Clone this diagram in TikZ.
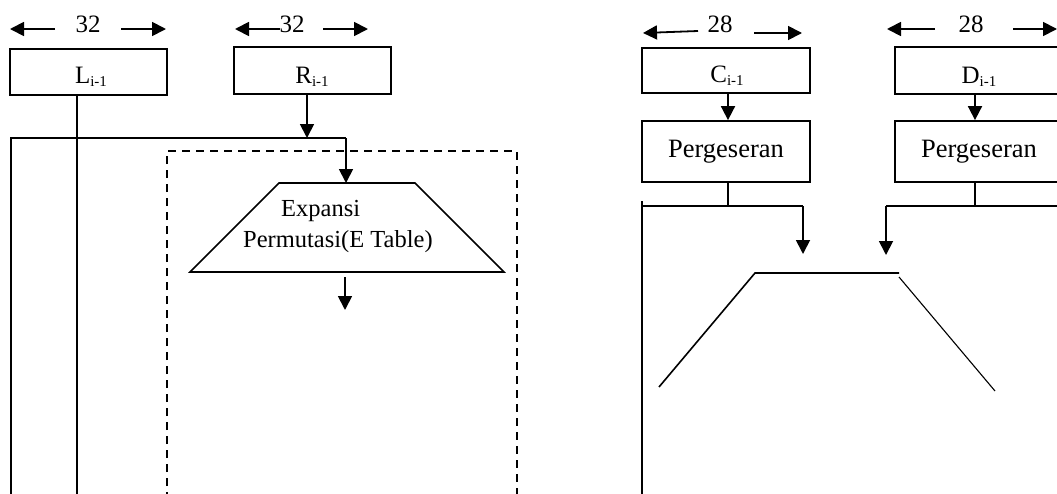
\documentclass[tikz,border=0pt]{standalone}
\usepackage{fontspec}
\setmainfont{Liberation Serif}
\usetikzlibrary{arrows.meta}
\newcommand{\sbs}[1]{\raisebox{-3pt}{\fontsize{15}{15}\selectfont #1}}
\begin{document}
\begin{tikzpicture}[x=1pt,y=-1pt,
  box/.style={draw,line width=1.8pt,inner sep=0pt},
  arr/.style={line width=1.8pt,-{Triangle[length=14pt,width=14pt]}},
  ln/.style={line width=1.6pt},
  thinln/.style={line width=1.1pt},
  dashln/.style={line width=1.4pt,dash pattern=on 8pt off 6pt},
  txt/.style={font=\fontsize{25}{28}\selectfont,inner sep=0pt,anchor=base},
  bigtxt/.style={font=\fontsize{26.5}{30}\selectfont,inner sep=0pt,anchor=base},
  trtxt/.style={font=\fontsize{24.5}{28}\selectfont,inner sep=0pt,anchor=base west}]
\useasboundingbox (0,0) rectangle (1057,493);
% boxes
\node[box,minimum width=157pt,minimum height=46pt] (L) at (88.5,72) {};
\node[box,minimum width=157pt,minimum height=47pt] (R) at (312.5,70.5) {};
\node[box,minimum width=168pt,minimum height=45pt] (C) at (726,70.5) {};
\node[box,minimum width=168pt,minimum height=61pt] (P1) at (726,151.5) {};
\node[box,minimum width=168pt,minimum height=47pt] (D) at (979,70.5) {};
\node[box,minimum width=168pt,minimum height=61pt] (P2) at (979,151.5) {};
% box texts
\node[txt] (Lt) at (91,83) {L\sbs{i-1}};
\node[txt] (Rt) at (312,83) {R\sbs{i-1}};
\node[txt] (Ct) at (727,82) {C\sbs{i-1}};
\node[txt] (Dt) at (979,83) {D\sbs{i-1}};
\node[bigtxt] (P1t) at (726,157) {Pergeseran};
\node[bigtxt] (P2t) at (979,157) {Pergeseran};
% dimension labels
\node[txt] (n1) at (88,32) {32};
\node[txt] (n2) at (292,32) {32};
\node[txt] (n3) at (720,32) {28};
\node[txt] (n4) at (971,32) {28};
\coordinate (a1l) at (10,29); \coordinate (a1t) at (55,29);
\coordinate (a1r) at (166,29); \coordinate (a1s) at (121,29);
\coordinate (a2l) at (235,29); \coordinate (a2t) at (280,29);
\coordinate (a2r) at (368,29); \coordinate (a2s) at (323,29);
\coordinate (a3l) at (643,33); \coordinate (a3t) at (698,31);
\coordinate (a3r) at (802,33); \coordinate (a3s) at (754,33);
\coordinate (a4l) at (887,29); \coordinate (a4t) at (935,29);
\coordinate (a4r) at (1057,29); \coordinate (a4s) at (1013,29);
\foreach \i in {1,2,3,4}{
  \draw[arr] (a\i t) -- (a\i l);
  \draw[arr] (a\i s) -- (a\i r);
}
% left part
\coordinate (Lend) at (77,500);
\draw[thinln] (L.south -| Lend) -- (Lend);
\coordinate (busR) at (307,138);
\coordinate (busL) at (11,138);
\coordinate (busE) at (346,138);
\coordinate (busLend) at (11,500);
\draw[arr] (R.south -| busR) -- (busR);
\draw[ln] (busLend) -- (busL) -- (busE);
% trapezoid
\coordinate (T1) at (279,183); \coordinate (T2) at (415,183);
\coordinate (T3) at (504,272); \coordinate (T4) at (190,272);
\draw[ln] (T1) -- (T2) -- (T3) -- (T4) -- cycle;
\draw[arr] (busE) -- (busE |- T1);
\node[trtxt] (E1) at (281,216) {Expansi};
\node[trtxt] (E2) at (243,247) {Permutasi(E Table)};
\coordinate (Eo1) at (345,277); \coordinate (Eo2) at (345,310);
\draw[arr] (Eo1) -- (Eo2);
% dashed frame
\draw[dashln] (167,500) -- (167,151) -- (517,151) -- (517,500);
% right part
\draw[arr] (C.south -| 728,0) -- (P1.north -| 728,0);
\draw[arr] (D.south -| 975,0) -- (P2.north -| 975,0);
\coordinate (j1) at (728,206); \coordinate (j2) at (975,206);
\coordinate (h1l) at (642,206); \coordinate (h1r) at (803,206);
\coordinate (h2l) at (886,206); \coordinate (h2r) at (1062,206);
\draw[thinln] (P1.south -| j1) -- (j1);
\draw[thinln] (P2.south -| j2) -- (j2);
\draw[ln] (h1l) -- (h1r);
\draw[ln] (h2r) -- (h2l);
\draw[arr] (h1r) -- (803,254);
\draw[arr] (h2l) -- (886,255);
\draw[ln] (642,201) -- (642,500);
% broken trapezoid
\coordinate (B1) at (755,273); \coordinate (B2) at (899,273);
\coordinate (B3) at (659,387); \coordinate (B4) at (899,277);
\coordinate (B5) at (995,391);
\draw[ln] (B3) -- (B1) -- (B2);
\draw[thinln] (B4) -- (B5);
\end{tikzpicture}
\end{document}
